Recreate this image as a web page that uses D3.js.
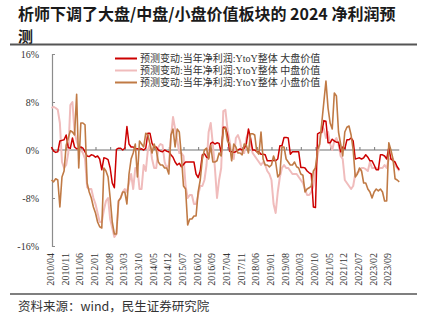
<!DOCTYPE html>
<html><head><meta charset="utf-8">
<script src="https://cdn.jsdelivr.net/npm/d3@7/dist/d3.min.js"></script>
<style>html,body{margin:0;padding:0;background:#fff;}svg{display:block;}</style>
</head><body>
<svg id="c" width="432" height="322"></svg>
<script>
const startMonth = "2010/04";
const xLabels = ["2010/04","2010/11","2011/06","2012/01","2012/08","2013/03","2013/10","2014/05","2014/12","2015/07","2016/02","2016/09","2017/04","2017/11","2018/06","2019/01","2019/08","2020/03","2020/10","2021/05","2021/12","2022/07","2023/02","2023/09"];
const yTicks = [16, 8, 0, -8, -16];
const seriesNames = ["预测变动:当年净利润:YtoY整体 大盘价值","预测变动:当年净利润:YtoY整体 中盘价值","预测变动:当年净利润:YtoY整体 小盘价值"];
const large = [
0.5,-0.2,-0.4,-0.3,1.5,1.6,1.7,2.5,0.4,0.3,
2.0,0.5,0.2,0.3,0.5,0.3,-0.3,-1.0,-1.1,-0.8,
-0.9,-1.2,-1.0,-1.5,-3.3,-1.3,-1.4,-1.6,-3.0,-5.5,
-6.3,0.1,0.3,0.3,0,0.3,3.9,1.0,0.5,0.5,
0.2,0.2,0.1,0.2,0.0,0.3,2.8,2.8,1.1,0.5,
0.5,0.0,-0.2,-0.3,0.0,-0.2,-0.3,-0.8,-1.2,-2.0,
-2.5,-2.2,-2.8,-2.4,-2.0,-2.0,-2.0,-2.0,-2.0,-4.0,
-4.6,-3.5,-0.8,-0.6,-1.2,-1.3,1.1,1.3,1.0,1.2,
1.1,-0.5,3.8,3.8,2.5,-0.2,-0.3,-0.4,-0.3,0.0,
0.2,0.0,0.3,1.0,3.5,2.0,0.0,0.0,-0.3,-0.3,
-0.7,-0.7,-0.8,-1.8,-1.8,-1.8,-1.7,-1.8,-1.5,0.7,
0.7,2.1,2.1,2.0,-0.7,-0.3,-0.3,-0.3,-0.3,-2.9,
-2.9,-3.0,-3.5,-3.8,-4.0,-9.5,-9.6,2.7,2.9,2.9,
4.9,4.8,1.2,1.2,1.8,1.5,1.3,1.3,-0.3,0.5,
0.2,1.7,1.7,2.0,1.5,-1.5,-1.4,-1.3,-1.5,-1.3,
-0.8,-1.2,-1.8,-1.8,-2.5,-3.3,-3.3,-0.8,-0.8,-1.0,
-1.5,0.4,-1.5,-1.8,-2.0,-2.8,-3.3];
const mid = [
7.0,7.2,7.0,6.7,4.5,-2.0,-3.0,-2.5,-0.5,7.5,
8.0,3.0,1.5,0.5,0.0,-0.5,-1.5,-6.2,-6.5,-6.5,
-8.0,-9.0,-10.5,-12.0,-12.0,-10.0,-8.5,-8.0,-11.5,-13.0,
-14.5,-14.0,-8.5,-8.0,-7.0,-6.5,-7.0,-5.5,-4.0,-6.5,
-3.0,-3.0,-6.5,-6.5,-2.5,-3.5,0.0,1.0,-1.5,-3.0,
-3.0,0.5,1.0,0.8,-2.0,-3.0,-2.5,2.0,5.5,3.5,
1.7,-0.5,-0.5,-1.0,-6.0,-8.0,-7.5,-7.5,-9.0,-9.0,
-7.5,-6.0,-6.0,-5.0,-2.5,3.0,4.5,1.0,-3.0,-8.0,
-5.0,-3.0,6.5,6.7,3.5,1.5,-1.0,-1.5,2.0,2.5,
1.5,-0.5,-0.5,2.0,3.0,1.0,-0.5,-1.0,-1.5,-2.0,
-2.5,-2.0,-2.5,-3.5,-4.0,-5.0,-9.0,-10.5,-7.0,-4.5,
-3.0,-2.5,-3.0,-3.0,-3.5,-4.0,-4.0,-4.0,-4.5,-5.0,
-5.5,-6.5,-7.5,-7.5,-7.0,-6.0,-3.0,-1.0,1.0,4.0,
3.5,2.0,3.0,1.0,0.0,1.5,2.0,1.0,-1.0,-1.5,
-5.0,-5.5,-6.0,-6.5,-6.0,-4.0,-3.8,-3.5,-3.0,-3.0,
-3.2,-3.5,-2.0,-3.0,-3.0,-3.0,-3.2,-3.0,-3.0,-2.5,
-3.0,-1.5,-1.5,-1.5,-2.5,-3.0,-3.5];
const small = [
-5.0,-5.3,-4.8,-5.0,-9.5,-4.5,-3.5,0.8,2.0,3.2,
3.0,2.5,9.3,-3.0,4.5,4.5,4.2,-5.5,-7.0,-8.0,
-9.5,-10.5,-12.0,-12.8,-13.0,-3.0,-3.5,-4.5,-8.0,-12.0,
-14.0,-14.0,-8.5,-8.0,-7.0,-7.0,-9.0,-4.0,-1.5,-0.5,
1.0,-4.5,1.5,1.0,0.5,2.8,2.5,1.0,-0.5,1.0,
0.0,-2.0,-2.5,-2.5,-3.0,-3.0,-4.0,2.5,3.5,0.5,
3.5,3.0,-1.0,-6.0,-6.5,-12.5,-11.5,-11.5,-11.0,-11.0,
-7.0,-5.0,-1.5,0.0,0.3,-1.5,0.8,-2.0,-2.0,-1.8,
-0.5,-1.0,3.5,3.7,1.5,1.0,-1.8,1.0,0.5,-0.5,
-0.5,-0.8,1.0,0.8,-0.5,2.7,2.7,2.5,-0.3,-0.7,
3.0,-1.5,-2.5,-2.5,-2.8,-2.5,-1.0,-2.0,-4.5,-4.0,
0.5,0.5,-1.5,-2.0,-2.5,-2.5,-2.0,-2.8,-3.0,-4.0,
-4.2,-7.0,-6.5,-6.3,-6.0,-3.5,-3.0,0.0,1.0,4.5,
8.0,11.5,7.0,4.5,3.5,9.5,9.0,3.0,1.0,-1.0,
3.0,3.8,4.0,2.5,0.0,-4.5,-4.0,-3.0,-3.5,-5.5,
-5.5,-6.5,-7.0,-8.0,-7.0,-6.5,-6.8,-6.5,-7.0,-8.5,
-8.5,1.2,0.0,-1.5,-4.8,-5.0,-5.3];

const colors = ["#cc0000", "#f0bcbc", "#c07a45"];

function monthIndex(s){
  const [yy,m] = s.split("/").map(Number);
  const [y0,m0] = startMonth.split("/").map(Number);
  return (yy-y0)*12 + (m-m0);
}

const svg = d3.select("#c");
const serif = "'Liberation Serif','Times New Roman','Noto Sans CJK SC',serif";
const cjk = "'Noto Sans CJK SC','Noto Sans',sans-serif";

// Title (two lines)
svg.append("text").attr("x", 18).attr("y", 20).attr("font-family", cjk).attr("font-weight", "bold")
  .attr("font-size", 16).attr("fill", "#1a1a1a").text("析师下调了大盘/中盘/小盘价值板块的 2024 净利润预");
svg.append("text").attr("x", 18).attr("y", 41.5).attr("font-family", cjk).attr("font-weight", "bold")
  .attr("font-size", 15).attr("fill", "#1a1a1a").text("测");

svg.append("line").attr("x1", 10).attr("x2", 417).attr("y1", 44.5).attr("y2", 44.5)
  .attr("stroke", "#555").attr("stroke-width", 1.8);
svg.append("line").attr("x1", 10).attr("x2", 417).attr("y1", 294).attr("y2", 294)
  .attr("stroke", "#555").attr("stroke-width", 1.5);
svg.append("text").attr("x", 18).attr("y", 311).attr("font-family", cjk)
  .attr("font-size", 12.5).attr("fill", "#333").text("资料来源：wind，民生证券研究院");

// scales
const x = d3.scaleLinear().domain([0, 161]).range([51.5, 51.5 + 161 * 2.095]);
const y = d3.scaleLinear().domain([-16, 16]).range([246, 54]);

// y axis
const yAxis = d3.axisLeft(y).tickValues(yTicks).tickSize(-3).tickPadding(13)
  .tickFormat(d => d + "%");
const gy = svg.append("g").attr("transform", "translate(52,0)").call(yAxis);
gy.select(".domain").attr("stroke", "#8c8c8c").attr("stroke-width", 1.2);
gy.selectAll(".tick line").attr("stroke", "#8c8c8c");
gy.selectAll(".tick text").attr("font-family", serif).attr("font-size", 10).attr("fill", "#333");

// zero line with ticks
const xAxis = d3.axisTop(x).tickValues(xLabels.map(monthIndex)).tickSize(3).tickFormat("");
const gx = svg.append("g").attr("transform", `translate(0,${y(0)})`).call(xAxis);
gx.select(".domain").attr("stroke", "#a0a0a0").attr("stroke-width", 1.6)
  .attr("d", `M52,0H${x(large.length - 1)}`);
gx.selectAll(".tick line").attr("stroke", "#7a7a7a");

// x labels at bottom
svg.append("g").selectAll("text").data(xLabels).join("text")
  .attr("transform", d => `translate(${x(monthIndex(d)) - 1},253) rotate(-90)`)
  .attr("text-anchor", "end").attr("dy", "0.35em")
  .attr("font-family", serif).attr("font-size", 10).attr("fill", "#333")
  .text(d => d);

// series
const line = d3.line().x((d, i) => x(i)).y(d => y(d));
const order = [[mid, 1, 2], [large, 0, 1.5], [small, 2, 1.6]];
order.forEach(([data, ci, w]) => {
  svg.append("path").datum(data).attr("d", line).attr("fill", "none")
    .attr("stroke", colors[ci]).attr("stroke-width", w).attr("stroke-linejoin", "round");
});

// legend
const lg = svg.append("g");
seriesNames.forEach((n, i) => {
  const yy = 58.5 + i * 12;
  lg.append("line").attr("x1", 115).attr("x2", 137).attr("y1", yy).attr("y2", yy)
    .attr("stroke", colors[i]).attr("stroke-width", 2);
  lg.append("text").attr("x", 140).attr("y", yy).attr("dy", "0.35em")
    .attr("font-family", serif).attr("font-size", 10).attr("fill", "#333").text(n);
});
</script>
</body></html>
